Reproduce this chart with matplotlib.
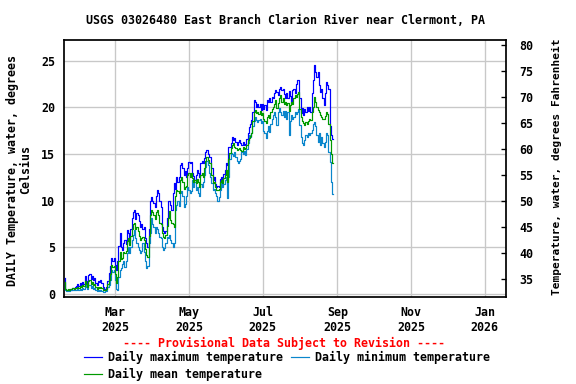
import matplotlib
matplotlib.use("Agg")
import matplotlib.pyplot as plt
import pandas as pd

start_date = "2025-01-18"
daily_max = [
    1.7, 0.6, 0.4, 0.5, 0.4, 0.6, 0.5, 0.7, 0.6, 0.8,
    0.9, 1.1, 0.9, 1.2, 1.0, 1.3, 1.1, 2.0, 1.4, 1.0,
    2.1, 2.2, 1.6, 1.9, 1.5, 1.7, 1.2, 1.0, 1.4, 1.3,
    1.5, 1.2, 0.8, 0.6, 0.6, 0.8, 1.4, 2.3, 3.0, 3.9,
    3.6, 3.9, 3.1, 2.6, 3.5, 5.2, 6.5, 5.0, 4.7, 5.5,
    5.8, 5.4, 6.9, 6.5, 5.5, 7.0, 8.2, 8.8, 9.0, 8.0,
    8.7, 8.5, 7.8, 7.2, 7.5, 7.0, 7.2, 6.0, 5.5, 5.0,
    7.0, 10.0, 10.4, 10.0, 9.8, 9.3, 10.5, 11.1, 10.8, 10.0,
    9.3, 7.2, 6.8, 6.5, 6.8, 8.2, 10.0, 10.0, 9.5, 9.0,
    10.8, 11.9, 11.3, 12.5, 12.0, 12.5, 13.8, 14.0, 13.5, 12.8,
    13.2, 12.5, 13.5, 14.1, 14.0, 14.1, 13.0, 12.6, 12.2, 12.8,
    13.3, 13.0, 12.5, 14.0, 14.3, 14.0, 14.6, 15.2, 15.4, 15.0,
    14.7, 14.7, 13.5, 12.2, 12.5, 11.8, 11.5, 11.6, 11.5, 12.3,
    12.5, 12.2, 12.9, 13.3, 14.0, 13.8, 15.7, 15.7, 16.2, 16.8,
    16.5, 16.7, 16.3, 16.0, 16.3, 16.5, 16.2, 16.0, 16.3, 16.0,
    16.1, 16.6, 17.3, 17.9, 18.2, 18.6, 19.5, 20.8, 20.6, 20.0,
    20.3, 20.0, 20.4, 19.7, 20.3, 19.8, 20.2, 19.7, 20.8, 20.6,
    21.0, 20.6, 21.1, 21.0, 21.5, 21.8, 21.6, 21.3, 22.0, 22.2,
    21.9, 22.0, 21.4, 21.0, 21.5, 21.0, 21.7, 21.2, 20.5, 21.8,
    22.0, 21.5, 22.5, 22.9, 22.9, 21.0, 19.4, 19.9, 19.2, 19.8,
    19.5, 20.0, 19.6, 20.0, 19.5, 21.5, 22.9, 24.5, 23.8, 23.2,
    23.8, 22.4, 21.6, 22.0, 21.0, 20.2, 21.5, 22.7, 22.4, 22.0,
    18.0, 17.0, 16.6,
]
daily_min = [
    1.2, 0.4, 0.3, 0.4, 0.3, 0.4, 0.4, 0.5, 0.4, 0.5,
    0.5, 0.6, 0.5, 0.6, 0.5, 0.7, 0.6, 1.0, 0.8, 0.6,
    1.0, 1.0, 0.7, 0.9, 0.6, 0.7, 0.4, 0.3, 0.4, 0.3,
    0.4, 0.3, 0.2, 0.2, 0.3, 0.3, 0.8, 1.0, 1.5, 2.6,
    2.4, 2.6, 1.5, 0.6, 0.5, 1.8, 2.6, 2.8, 3.2, 3.6,
    2.9, 3.5, 4.4, 5.0, 4.4, 5.0, 5.8, 6.3, 6.9, 6.0,
    5.5, 5.0, 4.7, 4.4, 4.6, 5.5, 4.5, 3.6, 2.8, 3.0,
    5.5, 6.5, 8.2, 7.5, 7.2, 6.6, 7.2, 7.0, 6.5, 6.1,
    6.0, 5.0, 4.7, 4.9, 5.5, 6.1, 6.0, 6.3, 5.8, 5.5,
    5.0, 5.5, 9.0, 9.5, 10.0, 9.4, 10.8, 11.0, 10.5, 9.3,
    9.7, 10.5, 11.5, 11.2, 10.8, 11.0, 12.2, 11.5, 12.0, 11.1,
    11.5, 10.8, 10.5, 11.8, 11.5, 12.0, 12.8, 13.6, 14.3, 13.8,
    13.0, 12.5, 11.9, 11.1, 11.3, 10.8, 10.5, 10.0, 10.4, 11.2,
    11.9, 11.5, 11.8, 12.2, 12.5, 10.3, 12.5, 14.5, 15.1, 15.0,
    14.8, 15.2, 14.7, 14.2, 14.0, 14.3, 14.5, 15.2, 15.0, 15.3,
    14.9, 15.5, 16.2, 17.0, 16.8, 17.2, 18.0, 18.5, 19.0, 18.6,
    18.4, 18.6, 18.8, 18.3, 18.5, 17.5, 17.2, 16.7, 17.5, 18.0,
    17.4, 18.2, 18.8, 19.2, 19.5, 19.0, 18.1, 19.5, 19.9, 19.5,
    19.2, 19.6, 19.0, 19.6, 18.8, 19.5, 17.0, 18.5, 19.2, 18.8,
    19.0, 19.5, 19.3, 19.5, 19.8, 18.1, 16.8, 16.2, 16.0, 16.5,
    17.0, 16.8, 17.2, 17.0, 17.3, 17.6, 18.2, 18.4, 18.0, 17.0,
    16.3, 17.2, 16.0, 16.8, 16.2, 15.8, 16.3, 17.3, 17.0, 15.2,
    14.1, 12.0, 10.7,
]
daily_mean = [
    1.3, 0.6, 0.5, 0.6, 0.5, 0.6, 0.6, 0.7, 0.6, 0.7,
    0.7, 0.8, 0.7, 0.9, 0.8, 1.0, 0.9, 1.4, 1.1, 0.8,
    1.4, 1.5, 1.1, 1.3, 1.0, 1.1, 0.8, 0.6, 0.8, 0.7,
    0.8, 0.7, 0.5, 0.5, 0.5, 0.6, 1.1, 1.5, 2.2, 3.1,
    2.9, 3.0, 2.2, 1.2, 1.8, 3.5, 4.5, 3.8, 3.9, 4.5,
    4.4, 4.6, 5.7, 6.0, 5.3, 6.2, 7.0, 7.5, 7.6, 7.0,
    7.2, 6.8, 6.2, 5.8, 6.0, 6.1, 5.8, 4.8, 4.2, 4.0,
    6.2, 8.5, 9.0, 8.8, 8.5, 8.0, 8.8, 9.0, 8.5, 7.6,
    7.5, 6.5, 6.1, 6.0, 6.3, 7.3, 8.2, 8.9, 7.9, 7.6,
    7.5, 7.2, 10.5, 11.1, 11.0, 10.8, 12.2, 12.5, 12.0, 11.3,
    11.5, 11.6, 12.8, 13.0, 12.5, 13.0, 12.4, 12.0, 12.2, 11.9,
    12.3, 12.0, 11.5, 12.8, 13.0, 12.5, 13.5, 14.3, 14.7, 14.4,
    14.0, 14.0, 12.8, 11.9, 12.0, 11.5, 11.2, 11.1, 11.3, 12.0,
    12.2, 11.9, 12.4, 12.8, 13.3, 12.0, 14.5, 15.1, 15.6, 16.0,
    16.2, 15.8, 15.6, 15.4, 15.5, 15.6, 15.4, 15.3, 15.7, 15.5,
    15.6, 16.0, 16.5, 16.7, 16.9, 17.3, 18.5, 19.5, 19.7, 19.4,
    19.5, 19.3, 19.6, 19.2, 19.4, 18.8, 18.5, 18.3, 19.0, 19.2,
    18.9, 19.5, 19.8, 20.0, 20.3, 20.8, 19.9, 20.5, 21.0, 21.3,
    20.6, 21.0, 20.4, 20.6, 20.2, 20.5, 19.6, 20.2, 20.6, 20.4,
    21.0, 21.3, 21.1, 21.4, 21.6, 19.8, 19.0, 18.5, 18.3, 18.1,
    18.4, 18.2, 18.5, 18.8, 18.6, 19.5, 20.0, 21.1, 20.6, 20.0,
    19.7, 19.5, 19.2, 19.0, 18.8, 18.8, 19.1, 19.5, 19.3, 18.2,
    16.5, 15.0, 14.0,
]
tick_dates = ["2025-03-01", "2025-05-01", "2025-07-01", "2025-09-01", "2025-11-01", "2026-01-01"]
tick_labels = ["Mar\n2025", "May\n2025", "Jul\n2025", "Sep\n2025", "Nov\n2025", "Jan\n2026"]
c_ticks = [0, 5, 10, 15, 20, 25]
f_ticks = [35, 40, 45, 50, 55, 60, 65, 70, 75, 80]

title = "USGS 03026480 East Branch Clarion River near Clermont, PA"
ylabel_left = "DAILY Temperature, water, degrees\nCelsius"
ylabel_right = "Temperature, water, degrees Fahrenheit"
provisional = "---- Provisional Data Subject to Revision ----"
legend_labels = ["Daily maximum temperature", "Daily mean temperature", "Daily minimum temperature"]

FONT = "DejaVu Sans Mono"
FS = 8.7
W, H = 576, 384

dates = pd.date_range(start_date, periods=len(daily_max), freq="D")

fig = plt.figure(figsize=(6, 4), dpi=96)
L, R, T, B = 64, 506, 40, 297
ax = fig.add_axes([L / W, 1 - B / H, (R - L) / W, (B - T) / H])

c_max = "#0000FF"
c_min = "#0A86CC"
c_mean = "#009A00"
lw = 0.9
l_max, = ax.plot(dates, daily_max, color=c_max, lw=lw, drawstyle="steps-mid", zorder=3)
l_min, = ax.plot(dates, daily_min, color=c_min, lw=lw, drawstyle="steps-mid", zorder=3)
l_mean, = ax.plot(dates, daily_mean, color=c_mean, lw=lw, drawstyle="steps-mid", zorder=4)

ylo, yhi = -0.3, 27.2
ax.set_ylim(ylo, yhi)
ax.set_xlim(pd.Timestamp("2025-01-17 12:00"), pd.Timestamp("2026-01-18 14:00"))
ax.set_xticks(pd.to_datetime(tick_dates))
ax.set_xticklabels(tick_labels)
ax.set_yticks(c_ticks)
ax.grid(True, color="#c8c8c8", lw=1.0, zorder=0)
ax.set_axisbelow(True)

fp = dict(family=FONT, size=FS, weight="bold")
for lab in ax.get_xticklabels() + ax.get_yticklabels():
    lab.set_fontfamily(FONT); lab.set_fontsize(FS); lab.set_fontweight("bold")
ax.tick_params(axis="x", length=0, pad=7)
ax.tick_params(axis="y", length=0, pad=6.5)
for s in ax.spines.values():
    s.set_linewidth(1.3)
    s.set_color("black")

ax2 = ax.twinx()
ax2.set_ylim(ylo * 9 / 5 + 32, yhi * 9 / 5 + 32)
ax2.set_yticks(f_ticks)
ax2.tick_params(axis="y", direction="in", length=4, width=1, pad=10)
for lab in ax2.get_yticklabels():
    lab.set_fontfamily(FONT); lab.set_fontsize(FS); lab.set_fontweight("bold")
for s in ax2.spines.values():
    s.set_visible(False)

fig.text(285 / W, 1 - 20 / H, title, ha="center", va="center", **fp)
fig.text(19 / W, 1 - 170 / H, ylabel_left, ha="center", va="center",
         rotation=90, multialignment="center", linespacing=1.05, **fp)
fig.text(557 / W, 1 - 167 / H, ylabel_right, ha="center", va="center",
         rotation=90, family=FONT, size=8.3, weight="bold")
fig.text(284 / W, 1 - 343 / H, provisional, ha="center", va="center",
         color="red", **fp)

fig.legend([l_max, l_mean, l_min], legend_labels, ncol=2, loc="upper left",
           bbox_to_anchor=(84 / W, 1 - 351 / H), frameon=False,
           prop=dict(family=FONT, size=FS, weight="bold"),
           handlelength=1.55, handletextpad=0.5, columnspacing=0.75,
           labelspacing=0.35, borderaxespad=0, borderpad=0)

fig.savefig("out.png", dpi=96)
